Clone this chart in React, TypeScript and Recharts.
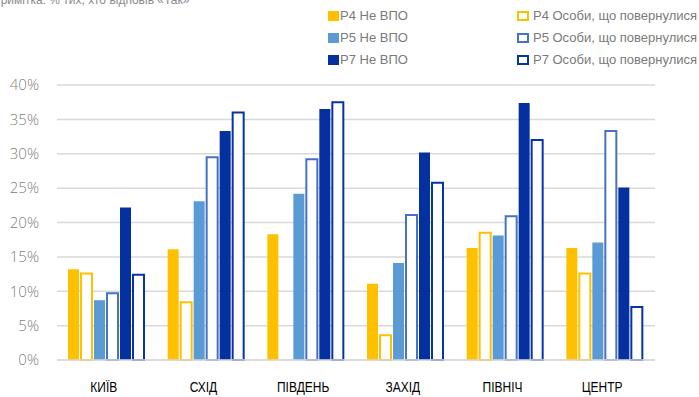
import React from 'react';
import { BarChart, Bar, XAxis, YAxis, CartesianGrid } from 'recharts';

const regions = ['КИЇВ', 'СХІД', 'ПІВДЕНЬ', 'ЗАХІД', 'ПІВНІЧ', 'ЦЕНТР'];

const p4NonIdp = [13.2, 16.1, 18.3, 11.1, 16.3, 16.3];
const p4Returned = [12.6, 8.4, 0, 3.6, 18.5, 12.6];
const p5NonIdp = [8.7, 23.1, 24.2, 14.1, 18.1, 17.1];
const p5Returned = [9.7, 29.5, 29.2, 21.1, 20.9, 33.3];
const p7NonIdp = [22.2, 33.3, 36.5, 30.2, 37.4, 25.1];
const p7Returned = [12.4, 36.0, 37.5, 25.8, 32.0, 7.7];

const yTicks = [0, 5, 10, 15, 20, 25, 30, 35, 40];

const note = 'Примітка: % тих, хто відповів «Так»';

const data = regions.map((name, i) => ({
  name,
  p4n: p4NonIdp[i],
  p4r: p4Returned[i],
  p5n: p5NonIdp[i],
  p5r: p5Returned[i],
  p7n: p7NonIdp[i],
  p7r: p7Returned[i],
}));

const series = [
  { key: 'p4n', label: 'P4 Не ВПО', color: '#FFC000', outline: false },
  { key: 'p4r', label: 'P4 Особи, що повернулися', color: '#FFC000', outline: true },
  { key: 'p5n', label: 'P5 Не ВПО', color: '#5B9BD5', outline: false },
  { key: 'p5r', label: 'P5 Особи, що повернулися', color: '#4472C4', outline: true },
  { key: 'p7n', label: 'P7 Не ВПО', color: '#0430A0', outline: false },
  { key: 'p7r', label: 'P7 Особи, що повернулися', color: '#0534A8', outline: true },
];

const LegendItem = ({ s, top, left }: any) => (
  <div style={{ position: 'absolute', top, left, display: 'flex', alignItems: 'center', whiteSpace: 'nowrap' }}>
    <span
      style={{
        display: 'inline-block',
        boxSizing: 'border-box',
        width: s.outline ? 12 : 11,
        height: 10,
        background: s.outline ? '#fff' : s.color,
        border: s.outline ? `2px solid ${s.color}` : 'none',
        marginRight: s.outline ? 4 : 1,
      }}
    />
    <span style={{ fontSize: 13, color: '#7a7a7a', fontFamily: 'Liberation Sans, Arial, sans-serif' }}>{s.label}</span>
  </div>
);

// narrow font imitation: horizontally squeezed text
const XTick = ({ x, y, payload }: any) => (
  <text
    transform={`translate(${x - 3}, ${y + 24}) scale(0.8, 1)`}
    textAnchor="middle"
    fill="#000"
    fontSize={15}
    style={{ fontFamily: '"Liberation Sans", Arial, sans-serif' }}
  >
    {payload.value}
  </text>
);

export default function App() {
  const filled = series.filter(s => !s.outline);
  const outlined = series.filter(s => s.outline);
  return (
    <div style={{ position: 'absolute', left: 0, top: 0, width: 699, height: 397, background: '#fff', overflow: 'hidden' }}>
      <div
        style={{
          position: 'absolute',
          top: -7,
          left: -8,
          fontSize: 12,
          color: '#8a8a8a',
          fontFamily: 'Liberation Sans, Arial, sans-serif',
          whiteSpace: 'nowrap',
        }}
      >
        {note}
      </div>
      {filled.map((s, i) => (
        <LegendItem key={s.key} s={s} top={8 + i * 22} left={328} />
      ))}
      {outlined.map((s, i) => (
        <LegendItem key={s.key} s={s} top={8 + i * 22} left={517} />
      ))}
      <BarChart
        width={699}
        height={397}
        data={data}
        margin={{ top: 85, right: 44, left: 0, bottom: 7 }}
        barCategoryGap={11}
        barGap={2}
      >
        <CartesianGrid vertical={false} stroke="#d9d9d9" strokeWidth={1.5} />
        <XAxis
          dataKey="name"
          tickLine={false}
          axisLine={{ stroke: '#d9d9d9', strokeWidth: 1.5 }}
          tick={<XTick />}
          height={30}
          interval={0}
        />
        <YAxis
          width={57}
          domain={[0, 40]}
          ticks={yTicks}
          tickFormatter={(v: number) => `${v}%`}
          axisLine={false}
          tickLine={false}
          tickSize={0}
          tickMargin={18}
          tick={{ fill: '#7f7f7f', fontSize: 15, fontFamily: '"Open Sans", sans-serif', fontWeight: 300 }}
          interval={0}
        />
        {series.map(s => (
          <Bar
            key={s.key}
            dataKey={s.key}
            fill={s.outline ? '#ffffff' : s.color}
            stroke={s.outline ? s.color : undefined}
            strokeWidth={s.outline ? 2 : 0}
            isAnimationActive={false}
          />
        ))}
      </BarChart>
    </div>
  );
}
